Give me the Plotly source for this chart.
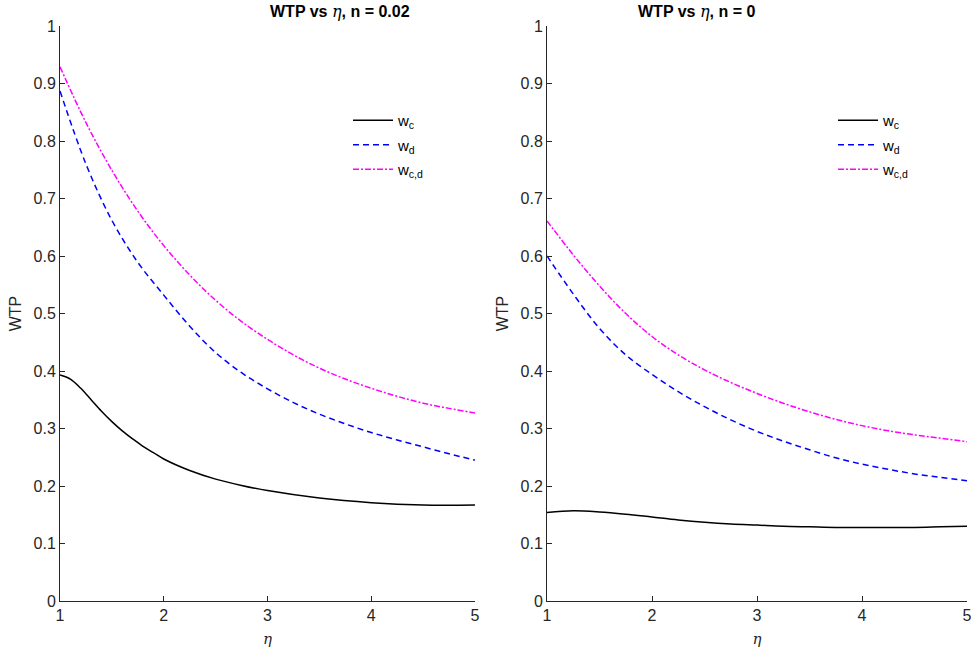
import plotly.graph_objects as go

# ---- data ----
eta = [1.0, 1.25, 1.5, 1.75, 2.0, 2.25, 2.5, 2.75, 3.0, 3.25, 3.5, 3.75, 4.0, 4.25, 4.5, 4.75, 5.0]
eta_c_left = [1.0, 1.1, 1.2, 1.3, 1.4, 1.5, 1.6, 1.7, 1.8, 1.9, 2.0, 2.25, 2.5, 2.75, 3.0, 3.5, 4.0, 4.5, 5.0]

# left panel, n = 0.02
wc_left = [0.393, 0.386, 0.370, 0.350, 0.330, 0.312, 0.296, 0.282, 0.269, 0.258, 0.247, 0.227, 0.212, 0.201, 0.192, 0.179, 0.171, 0.167, 0.167]
wd_left = [0.887, 0.760, 0.662, 0.589, 0.532, 0.478, 0.432, 0.397, 0.369, 0.345, 0.325, 0.308, 0.293, 0.280, 0.268, 0.256, 0.245]
wcd_left = [0.929, 0.832, 0.749, 0.678, 0.618, 0.567, 0.523, 0.486, 0.455, 0.428, 0.405, 0.386, 0.370, 0.356, 0.344, 0.335, 0.327]

# right panel, n = 0
wc_right = [0.154, 0.157, 0.155, 0.151, 0.146, 0.141, 0.137, 0.134, 0.132, 0.130, 0.129, 0.128, 0.128, 0.128, 0.128, 0.129, 0.130]
wd_right = [0.600, 0.534, 0.474, 0.428, 0.394, 0.364, 0.338, 0.315, 0.295, 0.278, 0.263, 0.249, 0.238, 0.229, 0.221, 0.215, 0.209]
wcd_right = [0.661, 0.602, 0.548, 0.500, 0.460, 0.428, 0.402, 0.380, 0.361, 0.344, 0.329, 0.316, 0.305, 0.296, 0.289, 0.283, 0.277]

titles = ["n = 0.02", "n = 0"]
y_ticks = [0, 0.1, 0.2, 0.3, 0.4, 0.5, 0.6, 0.7, 0.8, 0.9, 1]
x_ticks = [1, 2, 3, 4, 5]

FONT = "Liberation Sans, Arial, Helvetica, sans-serif"
AX = "#262626"
ETA = "<span style='font-family:DejaVu Serif, serif;font-style:italic;font-weight:normal'>η</span>"

names = ["w<sub>c</sub>", "w<sub>d</sub>", "w<sub>c,d</sub>"]
colors = ["black", "#0000ff", "#ff00ff"]
dashes = ["solid", "6px,4px", "6px,2px,2px,2px"]

fig = go.Figure()
panels = [((eta_c_left, wc_left), (eta, wd_left), (eta, wcd_left)),
          ((eta, wc_right), (eta, wd_right), (eta, wcd_right))]
for p, series in enumerate(panels):
    xa = "x" if p == 0 else "x2"
    ya = "y" if p == 0 else "y2"
    lg = "legend" if p == 0 else "legend2"
    for s, (xs, vals) in enumerate(series):
        fig.add_trace(go.Scatter(
            x=xs, y=vals, mode="lines", name=names[s],
            line=dict(color=colors[s], width=1.5, dash=dashes[s], shape="spline", smoothing=1.0),
            xaxis=xa, yaxis=ya, legend=lg, legendgroup=f"g{p}{s}",
        ))

W, H = 971, 655
dom_left = [60 / W, 475 / W]
dom_right = [547 / W, 967 / W]

def xaxis(domain, anchor):
    return dict(domain=domain, anchor=anchor, range=[1, 5], tickvals=x_ticks,
                ticks="inside", ticklen=5, tickcolor=AX, showline=True, linecolor=AX,
                linewidth=1, showgrid=False, zeroline=False, automargin=False,
                ticklabeloverflow="allow",
                tickfont=dict(family=FONT, size=16, color=AX),
                title=dict(text=ETA, font=dict(family=FONT, size=15, color=AX), standoff=10))

def yaxis(anchor):
    return dict(domain=[0, 1], anchor=anchor, range=[0, 1], tickvals=y_ticks,
                ticks="inside", ticklen=5, tickcolor=AX, showline=True, linecolor=AX,
                linewidth=1, showgrid=False, zeroline=False, automargin=False,
                ticklabeloverflow="allow",
                tickfont=dict(family=FONT, size=16, color=AX),
                title=dict(text="WTP", font=dict(family=FONT, size=16, color=AX), standoff=7))

leg_common = dict(bgcolor="rgba(0,0,0,0)", borderwidth=0, tracegroupgap=2,
                  font=dict(family=FONT, size=15, color="black"),
                  xanchor="left", yanchor="top", itemwidth=40)

fig.update_layout(
    width=W, height=H,
    margin=dict(l=0, r=0, t=26, b=54, autoexpand=False),
    paper_bgcolor="white", plot_bgcolor="white",
    showlegend=True,
    xaxis=xaxis(dom_left, "y"),
    yaxis=yaxis("x"),
    xaxis2=xaxis(dom_right, "y2"),
    yaxis2=yaxis("x2"),
    legend=dict(x=348 / W, y=1 - 78 / 575, **leg_common),
    legend2=dict(x=833 / W, y=1 - 78 / 575, **leg_common),
    annotations=[
        dict(text="<b>WTP vs " + ETA + ", " + titles[0] + "</b>", x=(dom_left[0] + dom_left[1]) / 2,
             y=1, xref="paper", yref="paper", yanchor="bottom", yshift=3, showarrow=False,
             font=dict(family=FONT, size=16, color="black")),
        dict(text="<b>WTP vs " + ETA + ", " + titles[1] + "</b>", x=(dom_right[0] + dom_right[1]) / 2,
             y=1, xref="paper", yref="paper", yanchor="bottom", yshift=3, showarrow=False,
             font=dict(family=FONT, size=16, color="black")),
    ],
)

fig.write_html("out.html", config={"displayModeBar": False},
               post_script="document.body.style.margin='0';")
